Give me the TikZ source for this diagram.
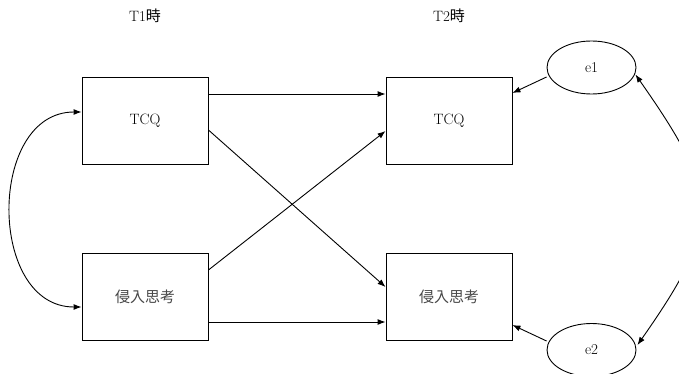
\documentclass[tikz,border=0pt]{standalone}
\usepackage{fontspec}
\newfontfamily\cjk{Noto Sans CJK JP}
\usetikzlibrary{arrows.meta,shapes.geometric}
\begin{document}
\begin{tikzpicture}[x=1pt,y=1pt,
  font=\fontsize{15}{18}\selectfont,
  varbox/.style={draw,line width=0.9pt,minimum width=126pt,minimum height=87pt,inner sep=0pt},
  cjktext/.style={font=\fontsize{15}{18}\selectfont\cjk,text=black!72},
  errnode/.style={draw,ellipse,line width=0.9pt,minimum width=89pt,minimum height=53pt,inner sep=0pt},
  conn/.style={line width=0.9pt,-{Latex[length=8pt,width=6pt]}},
  cov/.style={line width=0.9pt,{Latex[length=8pt,width=6pt]}-{Latex[length=8pt,width=6pt]}}]
\useasboundingbox (0,0) rectangle (679,-374);
\node (t1) at (145,-16) {T1{\cjk 時}};
\node (t2) at (449,-16) {T2{\cjk 時}};
\node[varbox] (a1) at (145,-120.5) {TCQ};
\node[varbox,cjktext] (b1) at (145,-297) {侵入思考};
\node[varbox] (a2) at (449,-120.5) {TCQ};
\node[varbox,cjktext] (b2) at (449,-297) {侵入思考};
\node[errnode] (e1) at (591.5,-67.5) {e1};
\node[errnode] (e2) at (591.5,-350) {e2};
\draw[conn] ([yshift=26.5pt]a1.east) -- ([yshift=26.5pt]a2.west);
\draw[conn] ([yshift=-9.5pt]a1.east) -- ([yshift=10pt]b2.west);
\draw[conn] ([yshift=27pt]b1.east) -- ([yshift=-10.5pt]a2.west);
\draw[conn] ([yshift=-25pt]b1.east) -- ([yshift=-25pt]b2.west);
\draw[conn] (e1.west |- 0,-77) -- ([yshift=27.5pt]a2.east);
\draw[conn] (e2.west |- 0,-341) -- ([yshift=-28pt]b2.east);
\draw[cov] ([yshift=8.5pt]a1.west) to[out=180,in=180,looseness=1.24] ([yshift=-10pt]b1.west);
\draw[cov] ([shift={(-1pt,-7pt)}]e1.east) to[out=-55,in=55,looseness=1.4] ([shift={(1pt,5pt)}]e2.east);
\end{tikzpicture}
\end{document}
